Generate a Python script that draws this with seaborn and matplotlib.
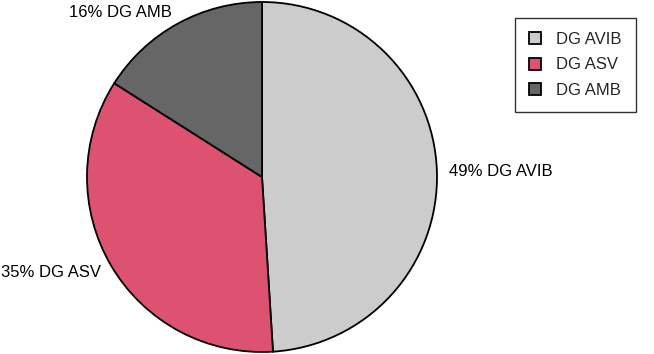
import matplotlib
matplotlib.use("Agg")
import matplotlib.pyplot as plt
import seaborn as sns

categories = ["DG AVIB", "DG ASV", "DG AMB"]
values = [49, 35, 16]
colors = ["#cccccc", "#dc5270", "#666666"]

sns.set_theme(style="white")
plt.rcParams['font.family'] = ['Liberation Sans', 'DejaVu Sans']

W, H = 654, 354
fig = plt.figure(figsize=(W / 100, H / 100), dpi=100)
cx, cy, r = 262, 177, 175
side = 354
ax = fig.add_axes([(cx - side / 2) / W, (cy - side / 2) / H, side / W, side / H])
lim = side / 2 / r

labels = [f"{v}% {c}" for c, v in zip(categories, values)]
wedges, texts = ax.pie(values, colors=colors, startangle=90, counterclock=False,
                       labels=labels, labeldistance=1.07,
                       wedgeprops=dict(edgecolor="black", linewidth=1.3),
                       textprops=dict(fontsize=12, color="black"))
ax.set_xlim(-lim, lim)
ax.set_ylim(-lim, lim)
ax.set_aspect("equal")
ax.axis("off")

leg = fig.legend(wedges, categories, loc="upper left",
                 bbox_to_anchor=(515 / W, 1 - 18 / H),
                 frameon=True, fancybox=False, edgecolor="black",
                 fontsize=12, handlelength=0.72, handleheight=0.72,
                 handletextpad=0.9, labelspacing=0.62,
                 borderpad=0.85, borderaxespad=0)
leg.get_frame().set_linewidth(1.0)

fig.savefig("out.png", dpi=100)
